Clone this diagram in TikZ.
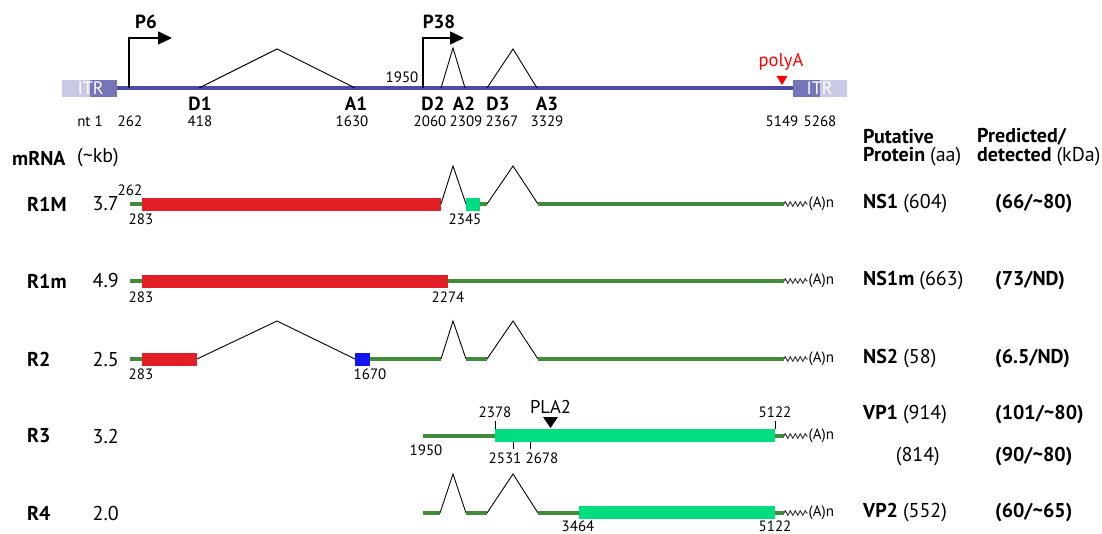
\documentclass[tikz,border=0pt]{standalone}
\usepackage{fontspec}
\setmainfont{PT Sans}
\usetikzlibrary{arrows.meta,decorations.pathmorphing}
\definecolor{genome}{HTML}{4B4BA3}
\definecolor{itrdark}{HTML}{7575B8}
\definecolor{itrlight}{HTML}{CACAE6}
\definecolor{exred}{HTML}{E21F27}
\definecolor{utr}{HTML}{428A3C}
\definecolor{exgreen}{HTML}{00DC80}
\definecolor{exblue}{HTML}{1414F0}
\newcommand\bigf{\fontsize{20}{22}\selectfont}
\tikzset{
  lbl/.style={font=\bigf\bfseries, inner sep=0pt},
  reg/.style={font=\bigf, inner sep=0pt},
  num/.style={font=\fontsize{15}{17}\selectfont, inner sep=0pt},
  site/.style={font=\fontsize{19}{21}\selectfont\bfseries, inner sep=0pt},
  utrline/.style={draw=utr, line width=4.5pt},
  splice/.style={draw=black, line width=0.9pt, line join=miter},
  prom/.style={draw=black, line width=1.5pt, -{Triangle[length=14pt,width=13pt]}},
  tail/.style={draw=black!80, line width=0.9pt, decorate, decoration={zigzag, segment length=5pt, amplitude=2.3pt}},
  tick/.style={draw=black, line width=0.8pt},
}
\newcommand\polytail[1]{%
  \draw[tail] (784,#1) -- (808,#1);
  \node[num, anchor=west] at (808.5,#1) {(A)n};}
\begin{document}
\begin{tikzpicture}[x=1pt,y=-1pt]
\useasboundingbox (0,0) rectangle (1102,534);
% ---------- genome ----------
\draw[draw=genome, line width=4.5pt] (117,88) -- (793,88);
\fill[itrlight] (62,80) rectangle (90,97);
\fill[itrdark] (90,80) rectangle (117,97);
\node[font=\fontsize{18}{20}\selectfont, text=white, inner sep=0] (itrL) at (90.5,88.5) {ITR};
\fill[itrdark] (793,80) rectangle (820,97);
\fill[itrlight] (820,80) rectangle (847,97);
\node[font=\fontsize{18}{20}\selectfont, text=white, inner sep=0] (itrR) at (819.5,88.5) {ITR};
% promoters
\coordinate (p6) at (129,88);
\coordinate (p38) at (423,88);
\draw[prom] (p6) -- (129,38) -- (172,38);
\draw[prom] (p38) -- (423,38) -- (464,38);
\node[site] (P6) at (146,22) {P6};
\node[site] (P38) at (439,22) {P38};
% splices on genome
\draw[splice] (199,88) -- (277,49) -- (355,88);
\draw[splice] (441,88) -- (453,48) -- (465,88);
\draw[splice] (487,88) -- (513,49) -- (537,88);
% polyA
\node[font=\fontsize{18.5}{20}\selectfont, text=red, inner sep=0] (polyA) at (781,62) {polyA};
\fill[red] (776.5,76) -- (787.5,76) -- (782,85) -- cycle;
% site labels
\node[site] at (200,104) {D1};
\node[site] at (356,104) {A1};
\node[site] at (433,104) {D2};
\node[site] at (464,104) {A2};
\node[site] at (498,104) {D3};
\node[site] at (547,104) {A3};
\node[num] at (402,77) {1950};
\node[num] at (90,121) {nt 1};
\node[num] at (130,121) {262};
\node[num] at (200,121) {418};
\node[num] at (352,121) {1630};
\node[num] at (430,121) {2060};
\node[num] at (466,121) {2309};
\node[num] at (502,121) {2367};
\node[num] at (547,121) {3329};
\node[num] at (782,121) {5149};
\node[num] at (820,121) {5268};
% ---------- headers ----------
\node[lbl, anchor=west] at (12,158) {mRNA};
\node[reg, anchor=west] at (77,158) {(\char"7E kb)};
\node[lbl, anchor=west] at (863,137) {Putative};
\node[anchor=west, inner sep=0] at (863,157) {\bigf\bfseries Protein \mdseries(aa)};
\node[lbl, anchor=west] at (977,137) {Predicted/};
\node[anchor=west, inner sep=0] at (977,157) {\bigf\bfseries detected \mdseries(kDa)};
% ---------- row labels ----------
\foreach \n/\k/\y in {R1M/3.7/204, R1m/4.9/281, R2/2.5/359, R3/3.2/436, R4/2.0/513}{
  \node[lbl, anchor=west] at (27,\y) {\n};
  \node[reg, anchor=east] at (119,\y) {\k};
}
% ---------- R1M ----------
\draw[utrline] (130,204) -- (142,204);
\fill[exred] (142,198) rectangle (441,211);
\draw[splice] (441,204) -- (453,166) -- (466,204);
\fill[exgreen] (466,198) rectangle (480,211);
\draw[utrline] (480,204) -- (487,204);
\draw[splice] (487,204) -- (513,166) -- (538,204);
\draw[utrline] (538,204) -- (784,204);
\polytail{204}
\node[num] at (130,190) {262};
\node[num] at (141,219) {283};
\node[num] at (465,219) {2345};
% ---------- R1m ----------
\draw[utrline] (130,281) -- (142,281);
\fill[exred] (142,275) rectangle (448,288);
\draw[utrline] (448,281) -- (784,281);
\polytail{281}
\node[num] at (141,297) {283};
\node[num] at (448,297) {2274};
% ---------- R2 ----------
\draw[utrline] (130,359) -- (142,359);
\fill[exred] (142,353) rectangle (197,366);
\draw[splice] (197,359) -- (277,321) -- (355,359);
\fill[exblue] (355,353) rectangle (370,366);
\draw[utrline] (370,359) -- (441,359);
\draw[splice] (441,359) -- (453,321) -- (466,359);
\draw[utrline] (466,359) -- (487,359);
\draw[splice] (487,359) -- (513,321) -- (538,359);
\draw[utrline] (538,359) -- (784,359);
\polytail{359}
\node[num] at (141,374) {283};
\node[num] at (370,374) {1670};
% ---------- R3 ----------
\draw[utrline] (423,436) -- (495,436);
\fill[exgreen] (495,429) rectangle (775,442);
\draw[utrline] (775,436) -- (784,436);
\polytail{436}
\draw[tick] (495,421) -- (495,429);
\draw[tick] (775,421) -- (775,429);
\draw[tick] (513,442) -- (513,449);
\draw[tick] (530,442) -- (530,449);
\fill[black] (543,417) -- (558,417) -- (550.5,428) -- cycle;
\node[font=\fontsize{18.5}{20}\selectfont, inner sep=0] (pla2) at (550.5,407) {PLA2};
\node[num] at (495,412) {2378};
\node[num] at (775,412) {5122};
\node[num] at (426,450) {1950};
\node[num] at (505,458) {2531};
\node[num] at (542,458) {2678};
% ---------- R4 ----------
\draw[utrline] (423,513) -- (440,513);
\draw[splice] (440,513) -- (453,474) -- (466,513);
\draw[utrline] (466,513) -- (487,513);
\draw[splice] (487,513) -- (513,474) -- (538,513);
\draw[utrline] (538,513) -- (579,513);
\fill[exgreen] (579,506) rectangle (775,519);
\draw[utrline] (775,513) -- (784,513);
\polytail{513}
\node[num] at (578,526) {3464};
\node[num] at (775,526) {5122};
% ---------- protein columns ----------
\node[anchor=west, inner sep=0] at (863,204) {\bigf\bfseries NS1 \mdseries(604)};
\node[anchor=west, inner sep=0] at (863,281) {\bigf\bfseries NS1m \mdseries(663)};
\node[anchor=west, inner sep=0] at (863,359) {\bigf\bfseries NS2 \mdseries(58)};
\node[anchor=west, inner sep=0] at (863,415) {\bigf\bfseries VP1 \mdseries(914)};
\node[reg, anchor=east] at (940,457) {(814)};
\node[anchor=west, inner sep=0] at (863,513) {\bigf\bfseries VP2 \mdseries(552)};
\node[lbl, anchor=west] at (995,204) {(66/\char"7E 80)};
\node[lbl, anchor=west] at (995,281) {(73/ND)};
\node[lbl, anchor=west] at (995,359) {(6.5/ND)};
\node[lbl, anchor=west] at (995,415) {(101/\char"7E 80)};
\node[lbl, anchor=west] at (995,457) {(90/\char"7E 80)};
\node[lbl, anchor=west] at (995,513) {(60/\char"7E 65)};
\end{tikzpicture}
\end{document}
